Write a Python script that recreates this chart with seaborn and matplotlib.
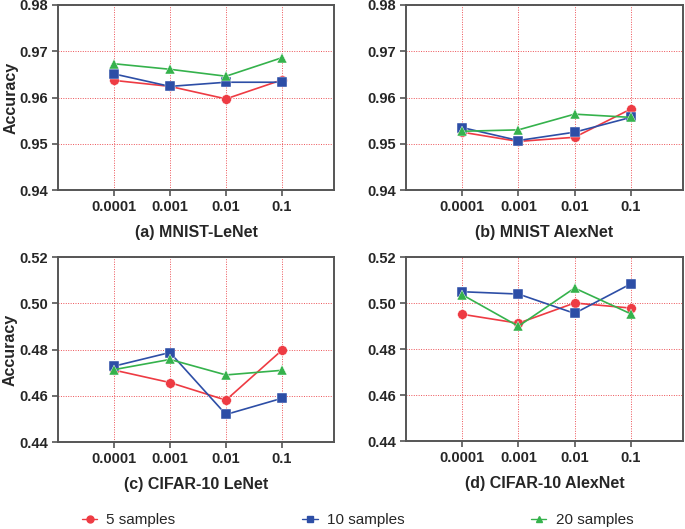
import numpy as np
import pandas as pd
import matplotlib.pyplot as plt
import seaborn as sns
from matplotlib.lines import Line2D

# ---- data ----
lrs = ["0.0001", "0.001", "0.01", "0.1"]
series = ["5 samples", "10 samples", "20 samples"]

mnist_lenet_5 = [0.9637, 0.9624, 0.9597, 0.9638]
mnist_lenet_10 = [0.9651, 0.9624, 0.9633, 0.9633]
mnist_lenet_20 = [0.9673, 0.9661, 0.9646, 0.9686]

mnist_alex_5 = [0.9525, 0.9505, 0.9514, 0.9575]
mnist_alex_10 = [0.9535, 0.9507, 0.9525, 0.9557]
mnist_alex_20 = [0.9527, 0.9530, 0.9564, 0.9557]

cifar_lenet_5 = [0.4711, 0.4657, 0.4581, 0.4797]
cifar_lenet_10 = [0.4728, 0.4787, 0.4519, 0.4589]
cifar_lenet_20 = [0.4713, 0.4757, 0.4690, 0.4710]

cifar_alex_5 = [0.4951, 0.4912, 0.5000, 0.4978]
cifar_alex_10 = [0.5049, 0.5039, 0.4955, 0.5083]
cifar_alex_20 = [0.5036, 0.4899, 0.5065, 0.4953]

mnist_ticks = [0.94, 0.95, 0.96, 0.97, 0.98]
cifar_ticks = [0.44, 0.46, 0.48, 0.50, 0.52]

panels = [
    ("(a) MNIST-LeNet", [mnist_lenet_5, mnist_lenet_10, mnist_lenet_20], mnist_ticks),
    ("(b) MNIST AlexNet", [mnist_alex_5, mnist_alex_10, mnist_alex_20], mnist_ticks),
    ("(c) CIFAR-10 LeNet", [cifar_lenet_5, cifar_lenet_10, cifar_lenet_20], cifar_ticks),
    ("(d) CIFAR-10 AlexNet", [cifar_alex_5, cifar_alex_10, cifar_alex_20], cifar_ticks),
]

# ---- style ----
sns.set_style("white")
plt.rcParams['font.family'] = ['Liberation Sans', 'DejaVu Sans']
colors = {"5 samples": "#ee3b43", "10 samples": "#2d4ea6", "20 samples": "#35b24c"}
markers = {"5 samples": "o", "10 samples": "s", "20 samples": "^"}

fig = plt.figure(figsize=(6.85, 5.29), dpi=100)
W, H = 685, 529
boxes = [(58, 5, 334, 190), (406, 5, 683, 190), (58, 257, 334, 442), (406, 257, 683, 441)]

for i, ((title, vals, yticks), (x0, y0, x1, y1)) in enumerate(zip(panels, boxes)):
    ax = fig.add_axes([x0 / W, 1 - y1 / H, (x1 - x0) / W, (y1 - y0) / H])
    rows = []
    for s, v in zip(series, vals):
        for j, y in enumerate(v):
            rows.append({"lr": j, "acc": y, "series": s})
    df = pd.DataFrame(rows)
    sns.lineplot(data=df, x="lr", y="acc", hue="series", style="series",
                 palette=colors, markers=markers, dashes=False,
                 markersize=7, linewidth=1.2, markeredgewidth=0.3,
                 ax=ax, legend=False)
    ax.set_xlim(-1, 3.93)
    ax.set_ylim(yticks[0], yticks[-1])
    ax.set_xticks(range(len(lrs)))
    ax.set_xticklabels(lrs)
    ax.set_yticks(yticks)
    ax.set_yticklabels([f"{t:.2f}" for t in yticks])
    ax.grid(True, color="#e8262c", linestyle=(0, (1, 1.5)), linewidth=0.7, alpha=0.8)
    ax.set_axisbelow(True)
    for sp in ax.spines.values():
        sp.set_color("#555555")
        sp.set_linewidth(1.4)
    ax.tick_params(axis="both", direction="out", length=4, width=1.2, color="#555555",
                   labelsize=10.5, pad=3, bottom=True, left=True)
    for lab in ax.get_xticklabels() + ax.get_yticklabels():
        lab.set_fontweight("bold")
    ax.set_xlabel(title, fontsize=11.5, fontweight="bold", labelpad=8)
    if i % 2 == 0:
        ax.set_ylabel("Accuracy", fontsize=11.5, fontweight="bold", labelpad=1)
    else:
        ax.set_ylabel("")

handles = [Line2D([0], [0], color=colors[s], marker=markers[s], markersize=5, linewidth=1.0)
           for s in series]
fig.legend(handles, series, loc="center", bbox_to_anchor=(0.522, 1 - 520 / H), ncol=3,
           frameon=False, fontsize=11, handlelength=1.0, handletextpad=0.6,
           columnspacing=8.3)

fig.savefig("out.png", dpi=100)
